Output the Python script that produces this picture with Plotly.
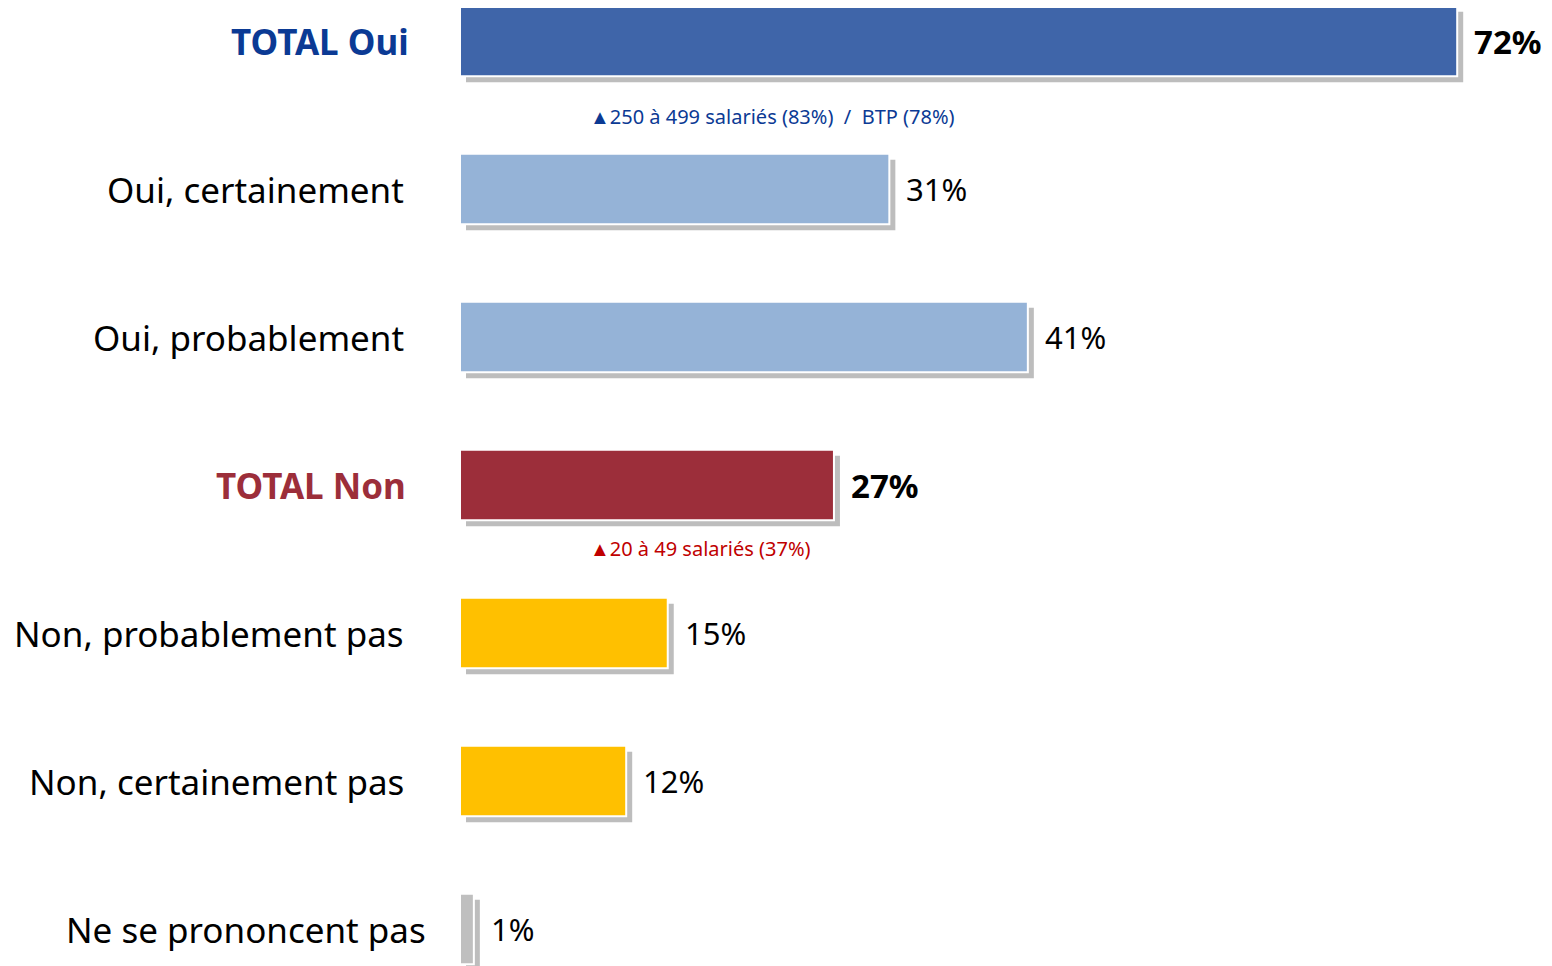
import plotly.graph_objects as go

categories = [
    "TOTAL Oui",
    "Oui, certainement",
    "Oui, probablement",
    "TOTAL Non",
    "Non, probablement pas",
    "Non, certainement pas",
    "Ne se prononcent pas",
]
values = [72, 31, 41, 27, 15, 12, 1]
bar_colors = ["#3F65A9", "#95B3D7", "#95B3D7", "#9C2E3A", "#FFC000", "#FFC000", "#BFBFBF"]
label_colors = ["#0B3A94", "#000000", "#000000", "#9C2E3A", "#000000", "#000000", "#000000"]
bold_rows = [0, 3]
notes = [
    (0, "▲250 à 499 salariés (83%)  /  BTP (78%)", "#0B3A94"),
    (3, "▲20 à 49 salariés (37%)", "#C00000"),
]

pos = list(range(len(categories)))
bar_w = 0.475
px_y = 148       # pixels per category row
px_x = 13.85     # pixels per percent
shadow_dy = 6 / px_y
shadow_dx = 6 / px_x

W, H = 1544, 958   # page body adds an 8px margin
left = 452
top_center = 33

fig = go.Figure()

# shadow behind each bar
fig.add_trace(go.Bar(
    y=pos, x=values, base=shadow_dx, orientation="h",
    width=bar_w, offset=-bar_w / 2 + shadow_dy,
    marker=dict(color="#BDBDBD", line=dict(width=0)),
    hoverinfo="skip", showlegend=False,
))
fig.add_trace(go.Bar(
    y=pos, x=values, orientation="h", width=bar_w,
    marker=dict(color=bar_colors, line=dict(color="white", width=2)),
    showlegend=False,
))

font = "Noto Sans"
label_shift = [-49, -54, -54, -52, -54, -54, -32]
annotations = []
for i, (cat, val) in enumerate(zip(categories, values)):
    bold = i in bold_rows
    annotations.append(dict(
        x=0, y=i, xref="x", yref="y", xanchor="right", yanchor="middle",
        xshift=label_shift[i], showarrow=False,
        text=f"<b>{cat}</b>" if bold else cat,
        font=dict(family=font, size=35, color=label_colors[i]),
    ))
    annotations.append(dict(
        x=val, y=i, xref="x", yref="y", xanchor="left", yanchor="middle",
        xshift=15, showarrow=False,
        text=f"<b>{val}%</b>" if bold else f"{val}%",
        font=dict(family=font, size=33 if bold else 31, color="#000000"),
    ))
for (i, txt, col), dy in zip(notes, [0.51, 0.43]):
    annotations.append(dict(
        x=0, y=i + dy, xref="x", yref="y", xanchor="left", yanchor="middle",
        xshift=128, showarrow=False, text=txt,
        font=dict(family=font, size=20, color=col),
    ))

fig.update_layout(
    width=W, height=H,
    margin=dict(l=left, r=0, t=0, b=0, autoexpand=False),
    barmode="overlay",
    plot_bgcolor="white", paper_bgcolor="white",
    xaxis=dict(range=[0, (W - left) / px_x], visible=False),
    yaxis=dict(range=[(H - top_center) / px_y, -top_center / px_y], visible=False),
    annotations=annotations,
)

fig.write_html("out.html")
